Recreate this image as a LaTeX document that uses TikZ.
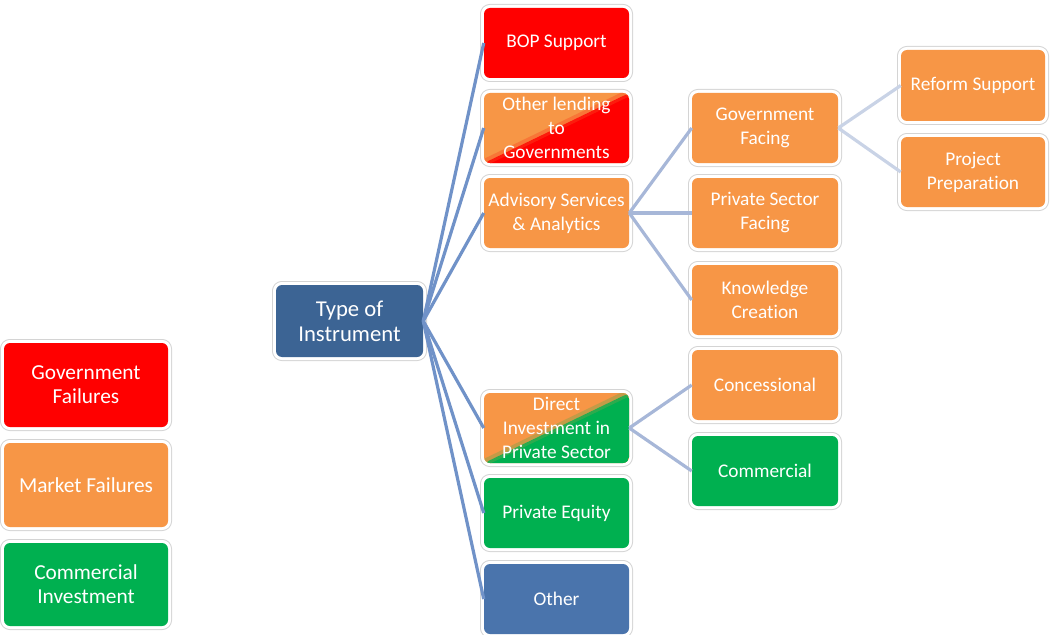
\documentclass[tikz,border=0pt]{standalone}
\usepackage{fontspec}
\setmainfont{Carlito}[Ligatures=NoCommon]
\definecolor{cred}{HTML}{FF0000}
\definecolor{corange}{HTML}{F79646}
\definecolor{cgreen}{HTML}{00B050}
\definecolor{cdark}{HTML}{3C6494}
\definecolor{cblue}{HTML}{4A74AC}
\definecolor{lone}{HTML}{7092C8}
\definecolor{ltwo}{HTML}{A7B7D8}
\definecolor{lthree}{HTML}{C9D3E6}
\tikzset{
  box/.style 2 args={rounded corners=4.5pt, minimum width=#1*0.75pt, minimum height=#2*0.75pt,
    inner sep=0pt, align=center, text=white,
    font=\fontsize{14.5}{18}\selectfont,
    preaction={draw=black!17, line width=6pt},
    preaction={draw=white, line width=4.5pt}},
  split/.style={path picture={
    \fill[#1] (path picture bounding box.south west) -- (path picture bounding box.north east)
      -- (path picture bounding box.south east) -- cycle;
    \draw[#1!35!corange, line width=3pt, opacity=0.6] ([xshift=-1pt,yshift=1pt]path picture bounding box.south west) -- ([xshift=-1pt,yshift=1pt]path picture bounding box.north east);
    \draw[#1!70!corange, line width=2pt, opacity=0.6] ([xshift=1pt,yshift=-1pt]path picture bounding box.south west) -- ([xshift=1pt,yshift=-1pt]path picture bounding box.north east);}},
  cone/.style={draw=lone, line width=2.4pt},
  ctwo/.style={draw=ltwo, line width=2.4pt},
  cthree/.style={draw=lthree, line width=2.4pt},
}
\begin{document}
\begin{tikzpicture}[x=0.75pt, y=-0.75pt]
\useasboundingbox (0,0) rectangle (1050,635);
% legend
\node[box={164}{84}, fill=cred, font=\fontsize{16}{18}\selectfont] (lgov) at (86,385) {Government\\Failures};
\node[box={164}{84}, fill=corange, font=\fontsize{16}{18}\selectfont] (lmkt) at (86,485) {Market Failures};
\node[box={164}{83}, fill=cgreen, font=\fontsize{16}{18}\selectfont] (lcom) at (86,584.5) {Commercial\\Investment};
% root
\node[box={147}{72}, fill=cdark, font=\fontsize{17}{19}\selectfont] (type) at (349.5,321) {Type of\\Instrument};
% column 1
\node[box={145}{70}, fill=cred] (bop) at (556.5,43) {BOP Support};
\node[box={145}{70}, fill=corange, split=cred] (olend) at (556.5,128) {Other lending\\to\\Governments};
\node[box={145}{70}, fill=corange] (adv) at (556.5,213) {Advisory Services\\\& Analytics};
\node[box={145}{70}, fill=corange, split=cgreen] (dir) at (556.5,428) {Direct\\Investment in\\Private Sector};
\node[box={145}{70}, fill=cgreen] (peq) at (556.5,513) {Private Equity};
\node[box={145}{70}, fill=cblue] (oth) at (556.5,599) {Other};
% column 2
\node[box={146}{70}, fill=corange] (gov) at (765,128) {Government\\Facing};
\node[box={146}{70}, fill=corange] (psf) at (765,213) {Private Sector\\Facing};
\node[box={146}{70}, fill=corange] (know) at (765,300) {Knowledge\\Creation};
\node[box={146}{70}, fill=corange] (conc) at (765,385) {Concessional};
\node[box={146}{70}, fill=cgreen] (comm) at (765,471) {Commercial};
% column 3
\node[box={144}{71}, fill=corange] (ref) at (973,85.5) {Reform Support};
\node[box={144}{70}, fill=corange] (proj) at (973,172) {Project\\Preparation};
% connectors
\foreach \t in {bop,olend,adv,dir,peq,oth}
  \draw[cone] (type.east) -- (\t.west);
\foreach \t in {gov,psf,know}
  \draw[ctwo] (adv.east) -- (\t.west);
\foreach \t in {conc,comm}
  \draw[ctwo] (dir.east) -- (\t.west);
\foreach \t in {ref,proj}
  \draw[cthree] (gov.east) -- (\t.west);
\end{tikzpicture}
\end{document}
